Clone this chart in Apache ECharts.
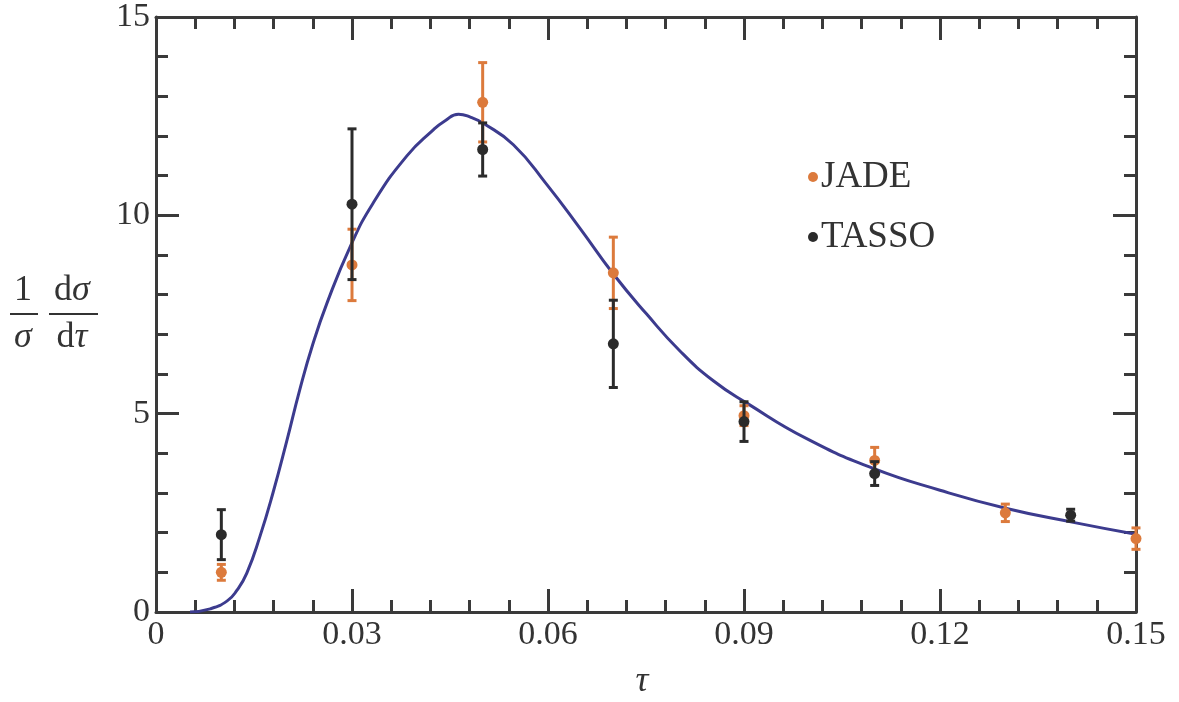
<!DOCTYPE html>
<html>
<head>
<meta charset="utf-8">
<script src="https://cdn.jsdelivr.net/npm/echarts@6/dist/echarts.min.js"></script>
<style>
html,body{margin:0;padding:0;background:#fff;}
#chart{width:1179px;height:702px;}
</style>
</head>
<body>
<div id="chart"></div>
<script>
// ---- data ----
const curveTau = [0.0052,0.0083,0.0109,0.0124,0.0139,0.0159,0.0179,0.0200,0.0220,0.0240,0.0262,0.0297,0.0332,0.0384,0.0424,0.0442,0.0463,0.0482,0.0501,0.0547,0.0598,0.0649,0.0700,0.0751,0.0802,0.0853,0.0905,0.0996,0.1098,0.1200,0.1302,0.1404,0.1500];
const curveVal = [0.00,0.08,0.28,0.55,0.98,1.90,3.00,4.30,5.60,6.75,7.80,9.20,10.30,11.50,12.15,12.38,12.55,12.47,12.32,11.78,10.78,9.67,8.52,7.51,6.58,5.83,5.26,4.37,3.62,3.07,2.61,2.26,1.96];

const jadeTau = [0.01,0.03,0.05,0.07,0.09,0.11,0.13,0.15];
const jadeVal = [1.00,8.75,12.85,8.55,4.95,3.82,2.50,1.85];
const jadeErr = [0.20,0.90,1.00,0.90,0.25,0.33,0.22,0.27];

const tassoTau = [0.01,0.03,0.05,0.07,0.09,0.11,0.14];
const tassoVal = [1.95,10.28,11.66,6.76,4.80,3.49,2.44];
const tassoErr = [0.63,1.90,0.67,1.10,0.50,0.30,0.15];

const xTicks = [0,0.03,0.06,0.09,0.12,0.15];
const yTicks = [0,5,10,15];

// ---- build ----
const SERIF = '"Liberation Serif","DejaVu Serif",serif';
const AX = '#3a3a3a';
const TXT = '#333';
const ORANGE = '#dc7a3c';
const BLACK = '#2b2b2b';
const BLUE = '#3c3b8e';

function errData(t, v, e){ return t.map((x,i)=>[x, v[i]-e[i], v[i]+e[i]]); }
function errRender(color){
  return function(params, api){
    const x = api.value(0);
    const lo = api.coord([x, api.value(1)]);
    const hi = api.coord([x, api.value(2)]);
    const w = 4.5;
    const st = {stroke: color, lineWidth: 3};
    return {type:'group', children:[
      {type:'line', shape:{x1:lo[0],y1:lo[1],x2:hi[0],y2:hi[1]}, style:st},
      {type:'line', shape:{x1:lo[0]-w,y1:lo[1],x2:lo[0]+w,y2:lo[1]}, style:st},
      {type:'line', shape:{x1:hi[0]-w,y1:hi[1],x2:hi[0]+w,y2:hi[1]}, style:st}
    ]};
  };
}
function fmtX(v){ return v===0 ? '0' : String(+v.toFixed(2)); }

const axisCommon = {
  type:'value',
  axisLine:{show:true, onZero:false, lineStyle:{color:AX, width:3}},
  axisTick:{show:true, inside:true, length:23, lineStyle:{color:AX, width:3}},
  minorTick:{show:true, splitNumber:5, length:12, lineStyle:{color:AX, width:3}},
  splitLine:{show:false},
  minorSplitLine:{show:false}
};

function mathText(x, y, rich){
  return {type:'text', x:x, y:y, silent:true,
    style:{text:rich, font:'36px "Liberation Serif"', fill:TXT, align:'center', verticalAlign:'middle',
      rich:{i:{fontStyle:'italic', fontFamily:'Liberation Serif', fontSize:36, fill:TXT}}}};
}

const option = {
  animation:false,
  backgroundColor:'#fff',
  grid:{left:156, right:43, top:15, bottom:90, containLabel:false},
  xAxis:[
    Object.assign({}, axisCommon, {min:xTicks[0], max:xTicks[xTicks.length-1], interval:0.03, position:'bottom',
      axisLabel:{show:true, margin:6, color:TXT, fontFamily:SERIF, fontSize:34, formatter:fmtX}}),
    Object.assign({}, axisCommon, {min:xTicks[0], max:xTicks[xTicks.length-1], interval:0.03, position:'top',
      axisLabel:{show:false}})
  ],
  yAxis:[
    Object.assign({}, axisCommon, {min:yTicks[0], max:yTicks[yTicks.length-1], interval:5, position:'left',
      axisLabel:{show:true, margin:6, color:TXT, fontFamily:SERIF, fontSize:34}}),
    Object.assign({}, axisCommon, {min:yTicks[0], max:yTicks[yTicks.length-1], interval:5, position:'right',
      axisLabel:{show:false}})
  ],
  legend:{
    orient:'vertical', left:803, top:152, itemGap:20,
    itemWidth:10, itemHeight:10,
    data:[{name:'JADE', icon:'circle'},{name:'TASSO', icon:'circle'}],
    textStyle:{fontFamily:SERIF, fontSize:37, color:TXT, padding:[0,0,0,-2], lineHeight:40}
  },
  graphic:[
    mathText(23, 291, '1'),
    {type:'line', silent:true, shape:{x1:10,y1:314,x2:38,y2:314}, style:{stroke:TXT, lineWidth:2}},
    mathText(23, 338, '{i|σ}'),
    mathText(72, 291, 'd{i|σ}'),
    {type:'line', silent:true, shape:{x1:49,y1:314,x2:98,y2:314}, style:{stroke:TXT, lineWidth:2}},
    mathText(72, 338, 'd{i|τ}'),
    mathText(642, 682, '{i|τ}')
  ],
  series:[
    {type:'line', name:'fit', data:curveTau.map((t,i)=>[t,curveVal[i]]), smooth:0.5,
      showSymbol:false, lineStyle:{color:BLUE, width:3}, z:3},
    {type:'custom', name:'JADEerr', data:errData(jadeTau,jadeVal,jadeErr), renderItem:errRender(ORANGE), z:4,
      encode:{x:0, y:[1,2]}},
    {type:'scatter', name:'JADE', data:jadeTau.map((t,i)=>[t,jadeVal[i]]), symbol:'circle', symbolSize:11,
      itemStyle:{color:ORANGE, opacity:1}, z:5},
    {type:'custom', name:'TASSOerr', data:errData(tassoTau,tassoVal,tassoErr), renderItem:errRender(BLACK), z:6,
      encode:{x:0, y:[1,2]}},
    {type:'scatter', name:'TASSO', data:tassoTau.map((t,i)=>[t,tassoVal[i]]), symbol:'circle', symbolSize:11,
      itemStyle:{color:BLACK, opacity:1}, z:7}
  ]
};
const chart = echarts.init(document.getElementById('chart'), null, {renderer:'canvas'});
chart.setOption(option);
</script>
</body>
</html>
